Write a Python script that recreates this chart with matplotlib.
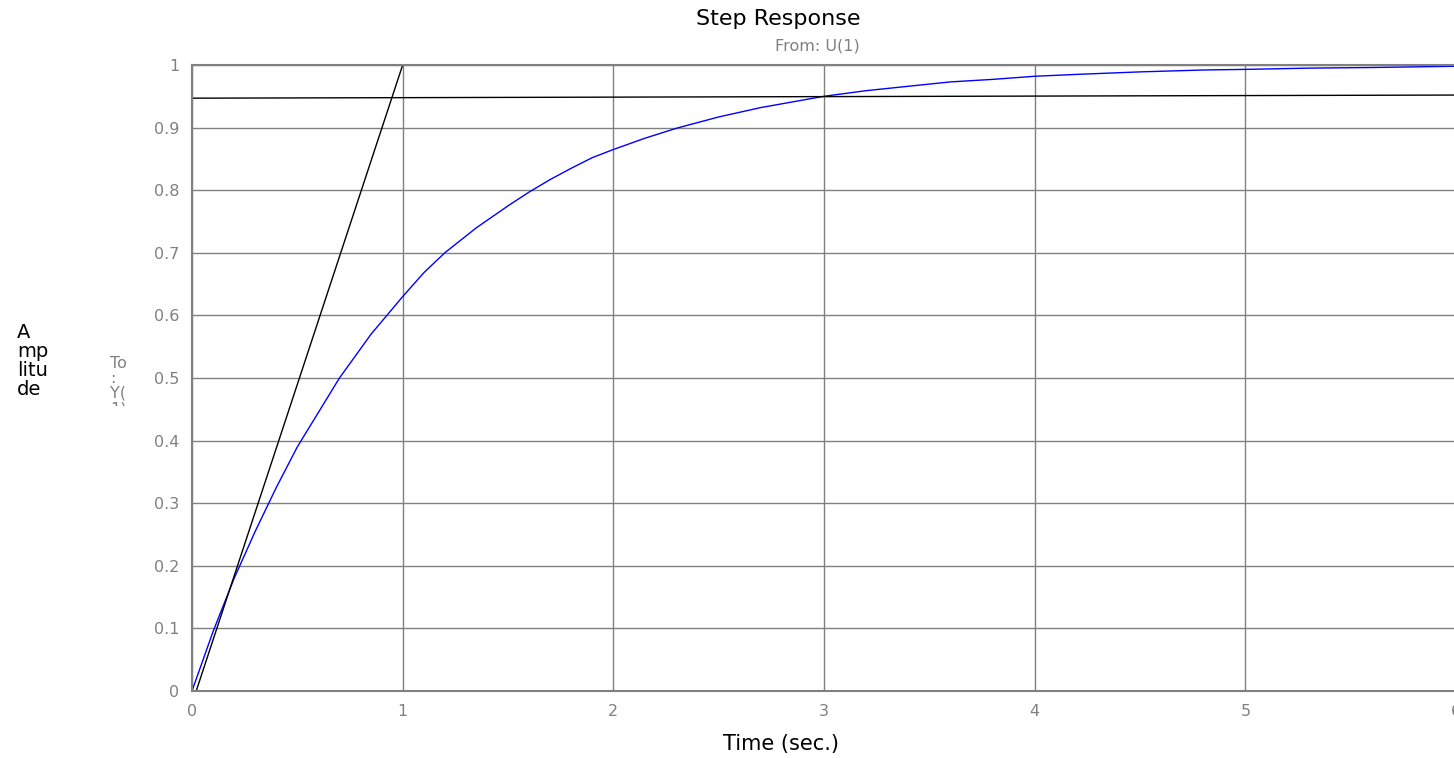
import matplotlib
matplotlib.use("Agg")
import matplotlib.pyplot as plt
from matplotlib.transforms import Bbox

# step response
tijd = [0, 0.1, 0.2, 0.3, 0.4, 0.5, 0.6, 0.7, 0.85, 1.0, 1.1, 1.2, 1.35, 1.5,
        1.6, 1.7, 1.8, 1.9, 2.0, 2.15, 2.3, 2.5, 2.7, 2.9, 3.0, 3.2, 3.4,
        3.6, 3.8, 4.0, 4.2, 4.5, 4.8, 5.0, 5.3, 5.6, 6.0]
amplitude = [0, 0.095, 0.18, 0.255, 0.325, 0.39, 0.445, 0.50, 0.57, 0.63,
             0.668, 0.70, 0.74, 0.775, 0.797, 0.817, 0.835, 0.852, 0.865,
             0.883, 0.899, 0.917, 0.932, 0.944, 0.95, 0.959, 0.966, 0.973,
             0.977, 0.982, 0.985, 0.989, 0.992, 0.993, 0.995, 0.996, 0.998]

# raaklijn en 95%-lijn
raak_t = [0.02, 1.0]
raak_y = [0.0, 1.0]
lijn_t = [0.0, 6.0]
lijn_y = [0.947, 0.952]

xticks = [0, 1, 2, 3, 4, 5, 6]
yticks = [0, 0.1, 0.2, 0.3, 0.4, 0.5, 0.6, 0.7, 0.8, 0.9, 1]
yticklabels = ["0", "0.1", "0.2", "0.3", "0.4", "0.5", "0.6", "0.7", "0.8", "0.9", "1"]

plt.rcParams['font.family'] = ['DejaVu Sans']
grijs = "#808080"

fig = plt.figure(figsize=(14.54, 7.58), dpi=100)
ax = fig.add_axes([192/1454, 1-691/758, (1456-192)/1454, (691-65)/758])

ax.plot(tijd, amplitude, color="blue", lw=1)
ax.plot(raak_t, raak_y, color="black", lw=1)
ax.plot(lijn_t, lijn_y, color="black", lw=1)

ax.set_xlim(0, 6)
ax.set_ylim(0, 1)
ax.set_xticks(xticks)
ax.set_yticks(yticks)
ax.set_yticklabels(yticklabels)
ax.grid(True, color=grijs, lw=1)
ax.tick_params(colors=grijs, labelsize=11.5, length=0, pad=9)
for kant, sp in ax.spines.items():
    sp.set_color(grijs)
    sp.set_linewidth(1.5)
ax.spines["right"].set_visible(False)

fig.text(0.535, 1-19/758, "Step Response", ha="center", va="center", fontsize=16)
fig.text(0.562, 1-46/758, "From: U(1)", ha="center", va="center", fontsize=11.5, color=grijs)
fig.text(0.537, 1-744/758, "Time (sec.)", ha="center", va="center", fontsize=15)
fig.text(17/1454, 1-361/758, "A\nmp\nlitu\nde", ha="left", va="center",
         fontsize=14, linespacing=1.0)
t = fig.text(110/1454, 1-386/758, "To\n:\nY(\n1)", ha="left", va="center",
             fontsize=11.5, color=grijs, linespacing=1.0)
t.set_clip_box(Bbox.from_extents(100, 758-406, 160, 758-345))
t.set_clip_on(True)

fig.savefig("out.png", dpi=100)
